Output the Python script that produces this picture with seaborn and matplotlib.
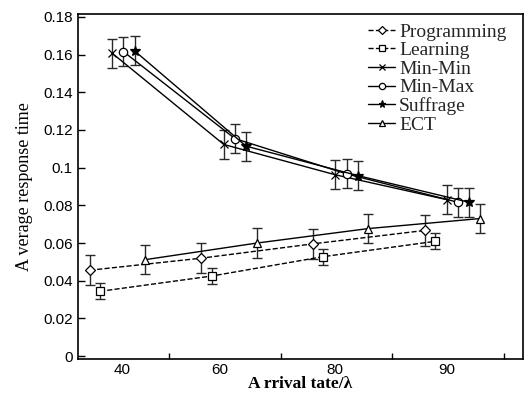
import numpy as np
import pandas as pd
import matplotlib
matplotlib.use("Agg")
import matplotlib.pyplot as plt
import seaborn as sns

# ---- data ----
arrival_rates = ["40", "60", "80", "90"]
programming = [0.0456, 0.0520, 0.0596, 0.0667]
learning = [0.0344, 0.0425, 0.0528, 0.0609]
min_min = [0.1607, 0.1123, 0.0962, 0.0830]
min_max = [0.1616, 0.1154, 0.0967, 0.0816]
suffrage = [0.1620, 0.1114, 0.0958, 0.0816]
ect = [0.0512, 0.0600, 0.0677, 0.0730]
err_programming = [0.008, 0.008, 0.008, 0.008]
err_learning = [0.0043, 0.0043, 0.0043, 0.0043]
err_min_min = [0.0077, 0.0077, 0.0077, 0.0077]
err_min_max = [0.0077, 0.0077, 0.0077, 0.0077]
err_suffrage = [0.0077, 0.0077, 0.0077, 0.0077]
err_ect = [0.0078, 0.0078, 0.0078, 0.0078]
series_names = ["Programming", "Learning", "Min-Min", "Min-Max", "Suffrage", "ECT"]
y_ticks = [0, 0.02, 0.04, 0.06, 0.08, 0.1, 0.12, 0.14, 0.16, 0.18]

values = [programming, learning, min_min, min_max, suffrage, ect]
errors = [err_programming, err_learning, err_min_min, err_min_max, err_suffrage, err_ect]

# ---- styling / positions ----
offsets = [0.29, 0.38, 0.49, 0.59, 0.69, 0.785]
markers = ["D", "s", "x", "o", "*", "^"]
msizes = [5, 5.5, 6, 6, 7, 6]
styles = ["--", "--", "-", "-", "-", "-"]
label_pos = [0.579, 1.457, 2.486, 3.489]

sns.set_theme(style="white")
plt.rcParams["font.family"] = ["Liberation Sans", "DejaVu Sans"]

fig = plt.figure(figsize=(5.28, 3.96), dpi=100)
ax = fig.add_axes([0.148, 0.0934, 0.8425, 0.8712])

group_idx = np.arange(len(arrival_rates))
for name, vals, errs, off, mk, ms, ls in zip(series_names, values, errors, offsets,
                                              markers, msizes, styles):
    xs = group_idx + off
    df = pd.DataFrame({"x": xs, "y": vals})
    ax.errorbar(xs, vals, yerr=errs, fmt="none", ecolor="#2a2a2a",
                elinewidth=1.0, capsize=3.5, capthick=1.0, zorder=2)
    face = "black" if mk in ("*", "x") else "white"
    sns.lineplot(data=df, x="x", y="y", ax=ax, color="black", linewidth=1.0,
                 linestyle=ls, marker=mk, markersize=ms, markerfacecolor=face,
                 markeredgecolor="black", markeredgewidth=0.9, label=name,
                 sort=False, zorder=3, dashes=(4, 2.5) if ls == "--" else "")

ax.set_xlim(0.185, 4.17)
ax.set_ylim(-0.0015, 0.1815)

ax.set_xticks([1, 2, 3, 4])
ax.set_xticklabels([])
ax.set_xticks(label_pos, minor=True)
ax.set_xticklabels(arrival_rates, minor=True)
ax.tick_params(axis="x", which="major", direction="in", length=4, width=1.0,
               color="black", bottom=True)
ax.tick_params(axis="x", which="minor", length=0, labelsize=11, pad=3,
               labelcolor="black")

ax.set_yticks(y_ticks)
ax.set_yticklabels(["%g" % v for v in y_ticks])
ax.tick_params(axis="y", which="major", direction="in", length=5, width=1.0,
               color="black", left=True, labelsize=11, pad=4, labelcolor="black")

for sp in ax.spines.values():
    sp.set_color("black")
    sp.set_linewidth(1.2)

ax.set_xlabel("A rrival tate/\u03bb", fontfamily=["Liberation Serif", "DejaVu Serif"],
              fontsize=12.5, fontweight="bold", labelpad=-1, color="black")
ax.set_ylabel("A verage response time", fontfamily=["Liberation Serif", "DejaVu Serif"],
              fontsize=13, labelpad=7, color="black")

ax.legend(loc="upper left", bbox_to_anchor=(368 / 528, 1 - 23 / 396),
          bbox_transform=fig.transFigure, frameon=False,
          prop={"family": "Liberation Serif", "size": 14},
          handlelength=1.4, handletextpad=0.2, labelspacing=0.05,
          borderpad=0, borderaxespad=0, markerscale=0.75)

fig.savefig("out.png", dpi=100)
